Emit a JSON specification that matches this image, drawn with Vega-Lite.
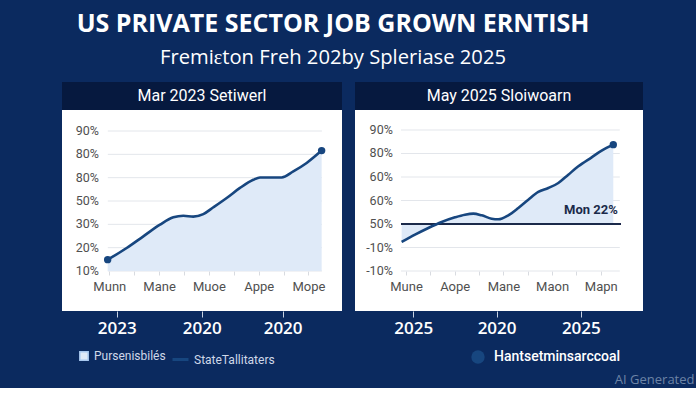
{
  "$schema": "https://vega.github.io/schema/vega-lite/v6.json",
  "background": "#0b2a5f",
  "padding": {"left": 62, "top": 11, "right": 2, "bottom": 2},
  "title": {
    "text": "US PRIVATE SECTOR JOB GROWN ERNTISH",
    "subtitle": "Fremiɛton Freh 202by Spleriase 2025",
    "color": "white",
    "subtitleColor": "white",
    "font": "Open Sans",
    "subtitleFont": "Open Sans",
    "fontSize": 25,
    "fontWeight": "bold",
    "subtitleFontSize": 20.2,
    "subtitleFontWeight": "normal",
    "anchor": "middle",
    "dx": -45,
    "subtitlePadding": 11,
    "offset": 14
  },
  "datasets": {
    "left": [
      {"t": -0.033, "v": 0.486}, {"t": 0.349, "v": 0.986}, {"t": 0.683, "v": 1.486},
      {"t": 1.018, "v": 1.986}, {"t": 1.286, "v": 2.30}, {"t": 1.487, "v": 2.37},
      {"t": 1.687, "v": 2.33}, {"t": 1.888, "v": 2.44}, {"t": 2.089, "v": 2.73},
      {"t": 2.357, "v": 3.13}, {"t": 2.624, "v": 3.56}, {"t": 2.892, "v": 3.91},
      {"t": 3.026, "v": 4.01}, {"t": 3.227, "v": 4.01}, {"t": 3.461, "v": 4.01},
      {"t": 3.695, "v": 4.27}, {"t": 3.963, "v": 4.63}, {"t": 4.264, "v": 5.16}
    ],
    "right": [
      {"t": -0.089, "v": 1.234}, {"t": 0.185, "v": 1.546}, {"t": 0.459, "v": 1.830},
      {"t": 0.733, "v": 2.085}, {"t": 1.006, "v": 2.284}, {"t": 1.211, "v": 2.397},
      {"t": 1.383, "v": 2.440}, {"t": 1.554, "v": 2.369}, {"t": 1.760, "v": 2.227},
      {"t": 1.896, "v": 2.199}, {"t": 2.101, "v": 2.369}, {"t": 2.307, "v": 2.681},
      {"t": 2.512, "v": 3.035}, {"t": 2.717, "v": 3.362}, {"t": 2.922, "v": 3.532},
      {"t": 3.128, "v": 3.745}, {"t": 3.333, "v": 4.099}, {"t": 3.539, "v": 4.454},
      {"t": 3.813, "v": 4.837}, {"t": 4.018, "v": 5.120}, {"t": 4.257, "v": 5.376}
    ],
    "gridLeft": [
      {"level": 0, "label": "10%"}, {"level": 1, "label": "20%"}, {"level": 2, "label": "30%"},
      {"level": 3, "label": "50%"}, {"level": 4, "label": "80%"}, {"level": 5, "label": "80%"},
      {"level": 6, "label": "90%"}
    ],
    "gridRight": [
      {"level": 0, "label": "-10%"}, {"level": 1, "label": "-10%"}, {"level": 2, "label": "50%"},
      {"level": 3, "label": "60%"}, {"level": 4, "label": "60%"}, {"level": 5, "label": "80%"},
      {"level": 6, "label": "90%"}
    ]
  },
  "spacing": 13,
  "hconcat": [
    {
      "spacing": 0,
      "bounds": "flush",
      "vconcat": [
        {
          "width": 280,
          "height": 28,
          "view": {"fill": "#06193f", "stroke": null},
          "data": {"values": [{"label": "Mar 2023 Setiwerl"}]},
          "mark": {"type": "text", "color": "white", "fontSize": 16, "font": "Roboto"},
          "encoding": {"text": {"field": "label"}}
        },
        {
          "width": 280,
          "height": 201,
          "view": {"fill": "white", "stroke": null},
          "data": {"name": "left"},
          "resolve": {"axis": {"x": "independent"}},
          "layer": [
            {
              "data": {"name": "gridLeft"},
              "mark": {"type": "rule", "color": "#e3e6eb", "strokeWidth": 1},
              "encoding": {
                "x": {
                  "datum": -0.03, "type": "quantitative",
                  "scale": {"domain": [-0.95, 4.673], "nice": false, "zero": false},
                  "axis": {
                    "orient": "bottom", "title": null, "values": [0.15, 1.855, 3.48],
                    "labelExpr": "datum.value < 1 ? '2023' : '2020'",
                    "domain": false, "grid": false, "ticks": true, "tickSize": 6,
                    "tickColor": "#c9d3e3", "labelColor": "white", "labelFontSize": 17,
                    "labelFont": "Open Sans", "labelFontWeight": 600, "labelPadding": 3,
                    "labelOverlap": false, "labelFlush": false, "labelBound": false
                  }
                },
                "x2": {"datum": 4.27},
                "y": {
                  "field": "level", "type": "quantitative", "axis": null,
                  "scale": {"domain": [-1.714, 6.9], "nice": false, "zero": false}
                }
              }
            },
            {
              "data": {"name": "gridLeft"},
              "mark": {"type": "text", "align": "right", "baseline": "middle", "fontSize": 12.5, "font": "Roboto", "color": "#505050"},
              "encoding": {
                "x": {"datum": -0.21, "type": "quantitative", "axis": null},
                "y": {"field": "level", "type": "quantitative", "axis": null},
                "text": {"field": "label"}
              }
            },
            {
              "mark": {"type": "area", "interpolate": "monotone"},
              "encoding": {
                "x": {
                  "field": "t", "type": "quantitative",
                  "scale": {"domain": [-0.95, 4.673], "nice": false, "zero": false},
                  "axis": {
                    "orient": "bottom", "offset": -40, "title": null,
                    "values": [0, 0.5, 1, 1.5, 2, 2.5, 3, 3.5, 4],
                    "labelExpr": "['Munn','Mane','Muoe','Appe','Mope'][datum.value] || ''",
                    "domain": false, "grid": false, "tickSize": 4, "tickColor": "#d8dbe0",
                    "labelColor": "#505050", "labelFontSize": 13, "labelFont": "Roboto",
                    "labelPadding": 5, "labelOverlap": false, "labelFlush": false, "labelBound": false
                  }
                },
                "y": {
                  "field": "v", "type": "quantitative", "axis": null,
                  "scale": {"domain": [-1.714, 6.9], "nice": false, "zero": false}
                },
                "y2": {"datum": 0},
                "fill": {
                  "datum": "Pursenisbilés",
                  "scale": {"range": ["#dfeaf8"]},
                  "legend": {
                    "orient": "none", "legendX": 16, "legendY": 268, "title": null,
                    "symbolType": "square", "symbolSize": 70,
                    "labelColor": "#cfd8e8", "labelFont": "Roboto", "labelFontSize": 12,
                    "encode": {"symbols": {"update": {"fill": {"value": "#a8c8ef"}, "stroke": {"value": "#a8c8ef"}, "opacity": {"value": 1}}}}
                  }
                }
              }
            },
            {
              "mark": {"type": "line", "interpolate": "monotone", "strokeWidth": 2.6},
              "encoding": {
                "x": {"field": "t", "type": "quantitative", "axis": null},
                "y": {"field": "v", "type": "quantitative", "axis": null},
                "stroke": {
                  "datum": "StateTallitaters",
                  "scale": {"range": ["#17467f"]},
                  "legend": {
                    "orient": "none", "legendX": 109, "legendY": 268, "title": null,
                    "symbolType": "stroke", "symbolSize": 256, "symbolStrokeWidth": 3,
                    "labelColor": "#cfd8e8", "labelFont": "Roboto", "labelFontSize": 12,
                    "encode": {"symbols": {"update": {"stroke": {"value": "#4d9de0"}}}}
                  }
                }
              }
            },
            {
              "transform": [{"filter": {"field": "t", "oneOf": [-0.033, 4.264]}}],
              "mark": {"type": "point", "filled": true, "size": 55, "color": "#17467f", "opacity": 1},
              "encoding": {
                "x": {"field": "t", "type": "quantitative", "axis": null},
                "y": {"field": "v", "type": "quantitative", "axis": null},
                "shape": {
                  "datum": "Hantsetminsarccoal",
                  "scale": {"range": ["circle"]},
                  "legend": {
                    "orient": "none", "legendX": 408, "legendY": 267, "title": null,
                    "symbolSize": 180, "symbolStrokeWidth": 2, "labelOffset": 8,
                    "labelColor": "white", "labelFont": "Roboto", "labelFontSize": 14, "labelFontWeight": 500,
                    "encode": {"symbols": {"update": {"fill": {"value": "#0b2a5f"}, "stroke": {"value": "white"}, "strokeWidth": {"value": 2}}}}
                  }
                }
              }
            }
          ]
        }
      ]
    },
    {
      "spacing": 0,
      "bounds": "flush",
      "vconcat": [
        {
          "width": 288,
          "height": 28,
          "view": {"fill": "#06193f", "stroke": null},
          "data": {"values": [{"label": "May 2025 Sloiwoarn"}]},
          "mark": {"type": "text", "color": "white", "fontSize": 16, "font": "Roboto"},
          "encoding": {"text": {"field": "label"}}
        },
        {
          "width": 288,
          "height": 201,
          "view": {"fill": "white", "stroke": null},
          "data": {"name": "right"},
          "resolve": {"axis": {"x": "independent"}},
          "layer": [
            {
              "data": {"name": "gridRight"},
              "mark": {"type": "rule", "color": "#e3e6eb", "strokeWidth": 1},
              "encoding": {
                "x": {
                  "datum": -0.103, "type": "quantitative",
                  "scale": {"domain": [-1.047, 4.867], "nice": false, "zero": false},
                  "axis": {
                    "orient": "bottom", "values": [0.15, 1.86, 3.59],
                    "labelExpr": "datum.value < 1 || datum.value > 3 ? '2025' : '2020'",
                    "domain": false, "grid": false, "ticks": true, "tickSize": 6,
                    "tickColor": "#c9d3e3", "labelColor": "white", "labelFontSize": 17,
                    "labelFont": "Open Sans", "labelFontWeight": 600, "labelPadding": 3,
                    "labelOverlap": false, "labelFlush": false, "labelBound": false,
                    "title": "AI Generated", "titleX": 339, "titleY": 68, "titleAlign": "right",
                    "titleBaseline": "middle", "titleColor": "#6d84a6", "titleFontSize": 13,
                    "titleFontWeight": "normal", "titleFont": "Open Sans", "titleAngle": 0
                  }
                },
                "x2": {"datum": 4.39},
                "y": {
                  "field": "level", "type": "quantitative", "axis": null,
                  "scale": {"domain": [-1.702, 6.851], "nice": false, "zero": false}
                }
              }
            },
            {
              "data": {"name": "gridRight"},
              "mark": {"type": "text", "align": "right", "baseline": "middle", "fontSize": 12.5, "font": "Roboto", "color": "#505050"},
              "encoding": {
                "x": {"datum": -0.27, "type": "quantitative", "axis": null},
                "y": {"field": "level", "type": "quantitative", "axis": null},
                "text": {"field": "label"}
              }
            },
            {
              "mark": {"type": "area", "interpolate": "monotone"},
              "encoding": {
                "x": {
                  "field": "t", "type": "quantitative",
                  "scale": {"domain": [-1.047, 4.867], "nice": false, "zero": false},
                  "axis": {
                    "orient": "bottom", "offset": -40, "title": null,
                    "values": [0, 0.5, 1, 1.5, 2, 2.5, 3, 3.5, 4],
                    "labelExpr": "['Mune','Aope','Mane','Maon','Mapn'][datum.value] || ''",
                    "domain": false, "grid": false, "tickSize": 4, "tickColor": "#d8dbe0",
                    "labelColor": "#505050", "labelFontSize": 13, "labelFont": "Roboto",
                    "labelPadding": 5, "labelOverlap": false, "labelFlush": false, "labelBound": false
                  }
                },
                "y": {
                  "field": "v", "type": "quantitative", "axis": null,
                  "scale": {"domain": [-1.702, 6.851], "nice": false, "zero": false}
                },
                "y2": {"datum": 2},
                "fill": {
                  "datum": "Pursenisbilés",
                  "scale": {"range": ["#dfeaf8"]},
                  "legend": {
                    "orient": "none", "legendX": 16, "legendY": 268, "title": null,
                    "symbolType": "square", "symbolSize": 70,
                    "labelColor": "#cfd8e8", "labelFont": "Roboto", "labelFontSize": 12,
                    "encode": {"symbols": {"update": {"fill": {"value": "#a8c8ef"}, "stroke": {"value": "#a8c8ef"}, "opacity": {"value": 1}}}}
                  }
                }
              }
            },
            {
              "mark": {"type": "rule", "color": "#1b2a4a", "strokeWidth": 2},
              "encoding": {
                "x": {"datum": -0.1, "type": "quantitative", "axis": null},
                "x2": {"datum": 4.4},
                "y": {"datum": 2, "type": "quantitative", "axis": null}
              }
            },
            {
              "mark": {"type": "line", "interpolate": "monotone", "strokeWidth": 2.6},
              "encoding": {
                "x": {"field": "t", "type": "quantitative", "axis": null},
                "y": {"field": "v", "type": "quantitative", "axis": null},
                "stroke": {
                  "datum": "StateTallitaters",
                  "scale": {"range": ["#17467f"]},
                  "legend": {
                    "orient": "none", "legendX": 109, "legendY": 268, "title": null,
                    "symbolType": "stroke", "symbolSize": 256, "symbolStrokeWidth": 3,
                    "labelColor": "#cfd8e8", "labelFont": "Roboto", "labelFontSize": 12,
                    "encode": {"symbols": {"update": {"stroke": {"value": "#4d9de0"}}}}
                  }
                }
              }
            },
            {
              "transform": [{"filter": {"field": "t", "oneOf": [4.257]}}],
              "mark": {"type": "point", "filled": true, "size": 55, "color": "#17467f", "opacity": 1},
              "encoding": {
                "x": {"field": "t", "type": "quantitative", "axis": null},
                "y": {"field": "v", "type": "quantitative", "axis": null},
                "shape": {
                  "datum": "Hantsetminsarccoal",
                  "scale": {"range": ["circle"]},
                  "legend": {
                    "orient": "none", "legendX": 408, "legendY": 267, "title": null,
                    "symbolSize": 180, "symbolStrokeWidth": 2, "labelOffset": 8,
                    "labelColor": "white", "labelFont": "Roboto", "labelFontSize": 14, "labelFontWeight": 500,
                    "encode": {"symbols": {"update": {"fill": {"value": "#0b2a5f"}, "stroke": {"value": "white"}, "strokeWidth": {"value": 2}}}}
                  }
                }
              }
            },
            {
              "data": {"values": [{"note": "Mon 22%"}]},
              "mark": {"type": "text", "align": "right", "baseline": "middle", "fontSize": 13, "fontWeight": "bold", "font": "Roboto", "color": "#1b2a4a"},
              "encoding": {
                "x": {"datum": 4.35, "type": "quantitative", "axis": null},
                "y": {"datum": 2.61, "type": "quantitative", "axis": null},
                "text": {"field": "note"}
              }
            }
          ]
        }
      ]
    }
  ],
  "config": {
    "view": {"stroke": null},
    "axis": {"labelFont": "Roboto"}
  }
}
